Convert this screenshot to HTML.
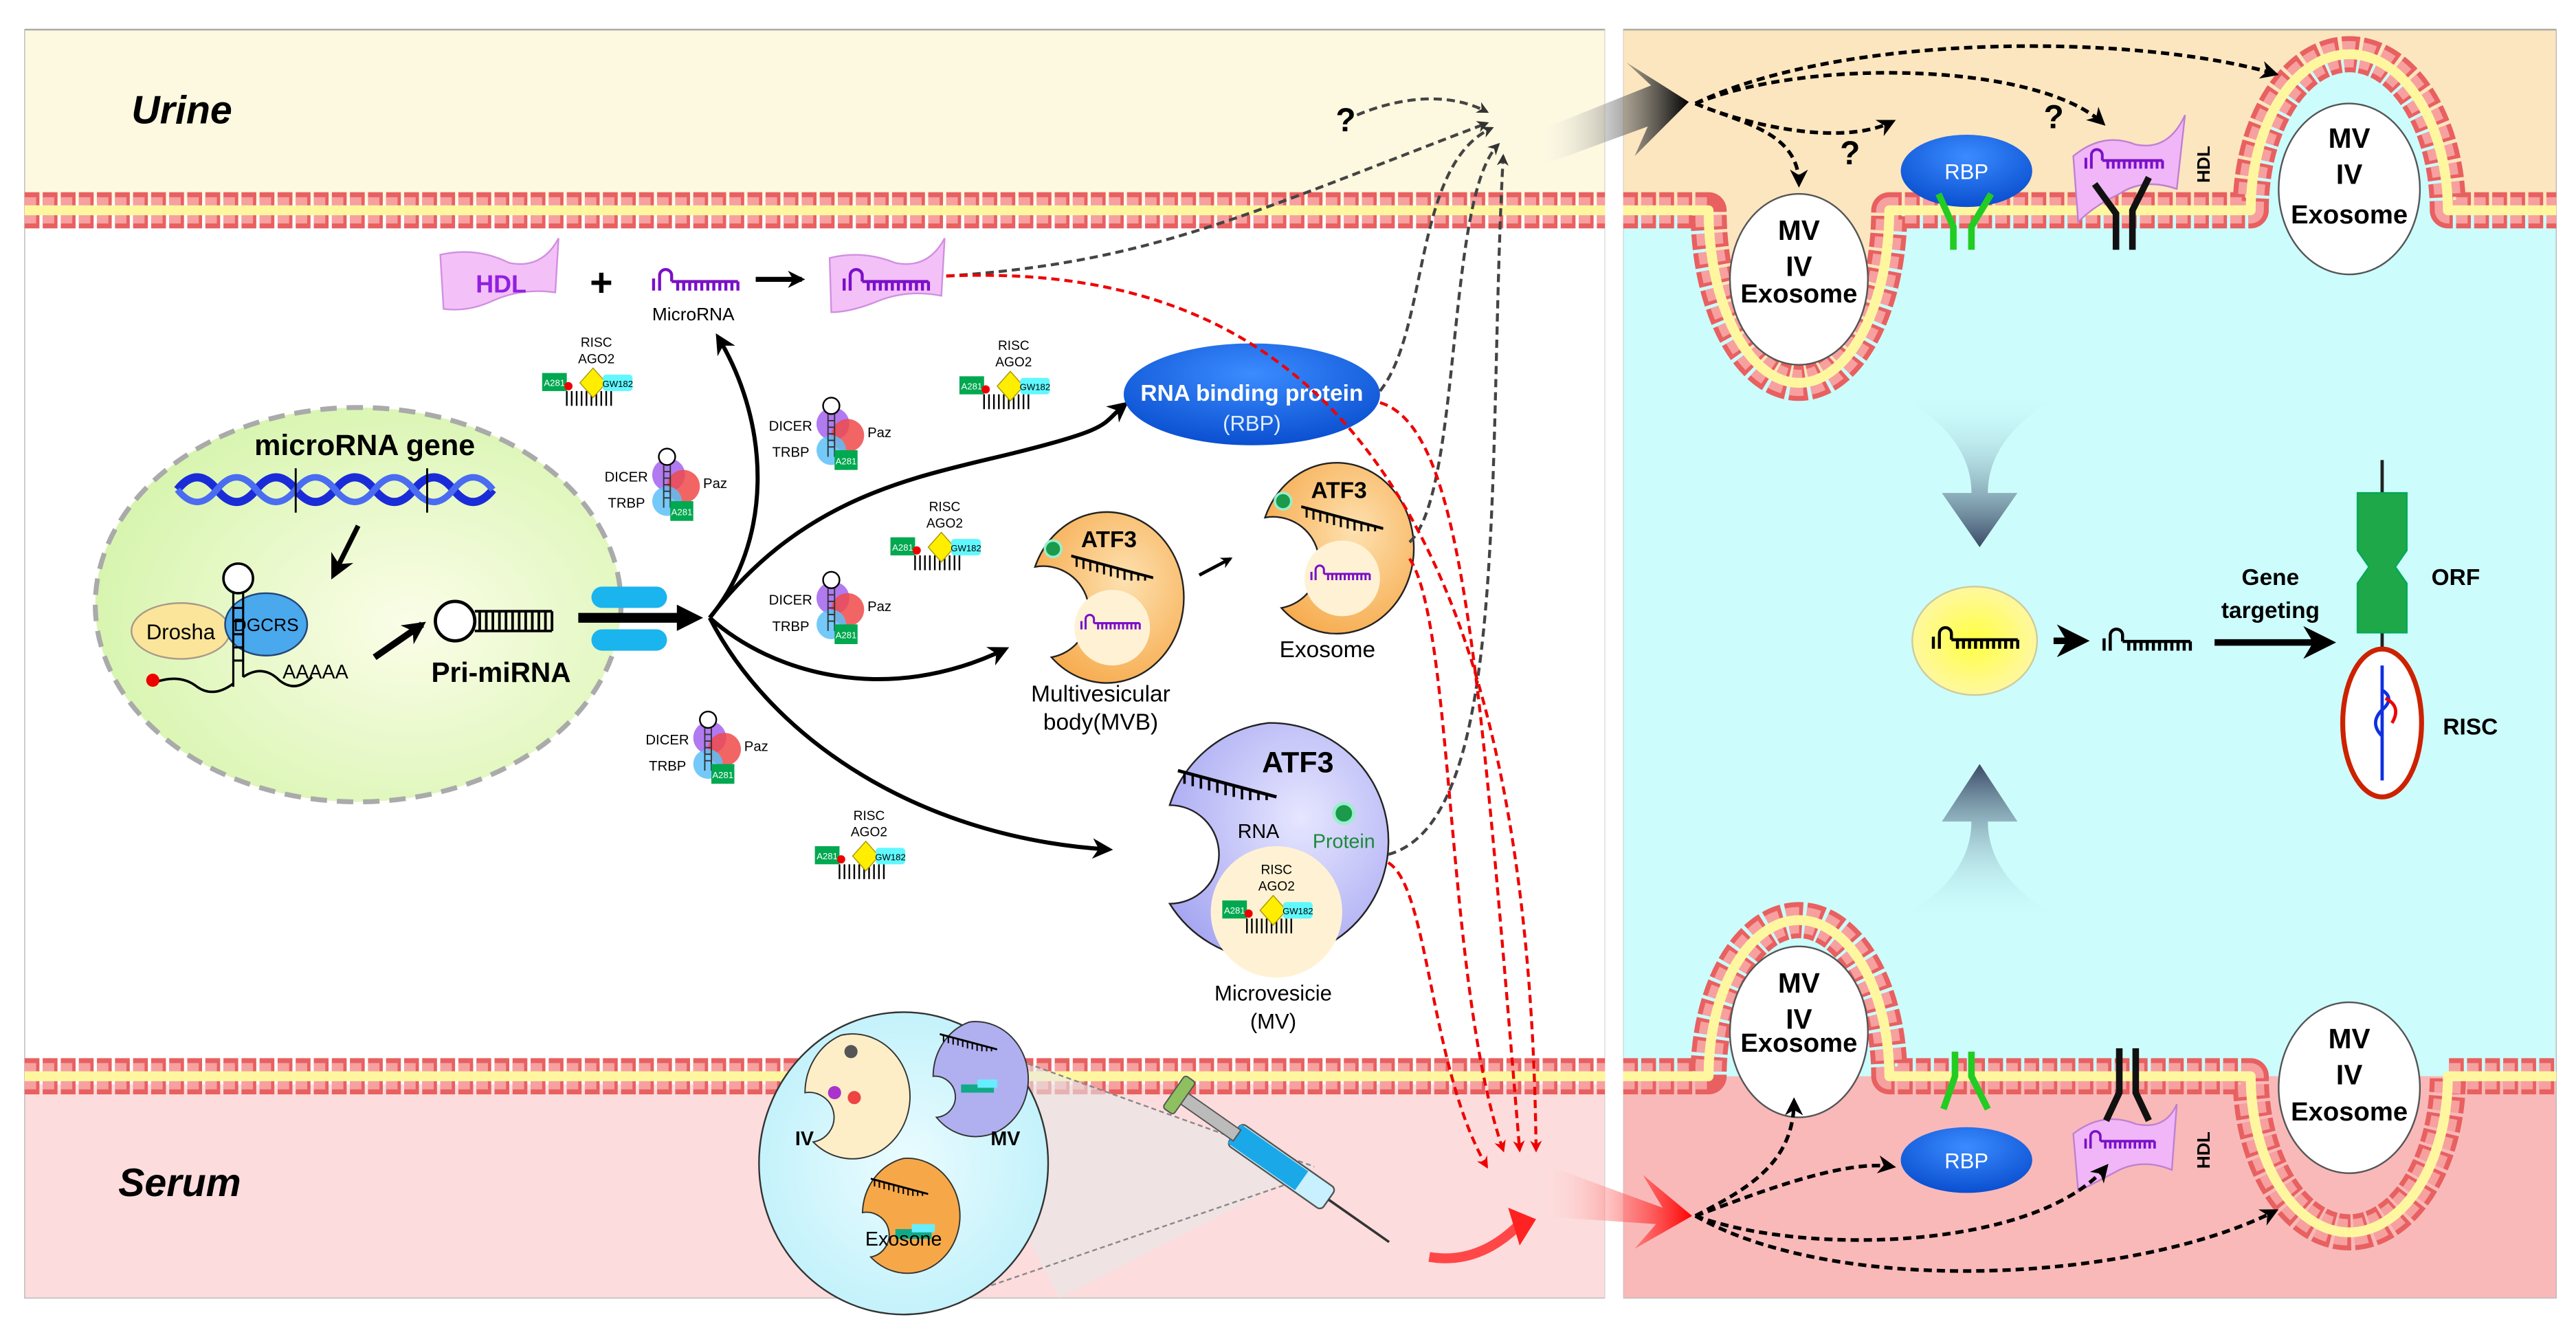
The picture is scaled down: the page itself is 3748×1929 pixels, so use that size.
<!DOCTYPE html>
<html><head><meta charset="utf-8"><style>
html,body{margin:0;padding:0;background:#fff}
svg{display:block}
text{font-family:"Liberation Sans",Arial,sans-serif}
</style></head><body>
<svg width="3748" height="1929" viewBox="0 0 1568 807" preserveAspectRatio="none" xmlns="http://www.w3.org/2000/svg">
<defs>
<radialGradient id="cellg" cx="0.6" cy="0.55" r="0.6"><stop offset="0" stop-color="#fbfde8"/><stop offset="1" stop-color="#d8f5b0"/></radialGradient>
<radialGradient id="rbpg" cx="0.5" cy="0.3" r="0.7"><stop offset="0" stop-color="#3b8cff"/><stop offset="1" stop-color="#0a4fd0"/></radialGradient>
<radialGradient id="orng" cx="0.6" cy="0.4" r="0.7"><stop offset="0" stop-color="#fde1b0"/><stop offset="1" stop-color="#f6a848"/></radialGradient>
<radialGradient id="lavg" cx="0.6" cy="0.4" r="0.7"><stop offset="0" stop-color="#e6e6ff"/><stop offset="1" stop-color="#a6a6f2"/></radialGradient>
<radialGradient id="yelg" cx="0.5" cy="0.5" r="0.5"><stop offset="0" stop-color="#ffff40"/><stop offset="1" stop-color="#fff8a0"/></radialGradient>
<radialGradient id="insetg" cx="0.5" cy="0.5" r="0.5"><stop offset="0" stop-color="#eafcff"/><stop offset="1" stop-color="#c4f2fb"/></radialGradient>
<linearGradient id="dn" x1="0" y1="0" x2="0" y2="1"><stop offset="0" stop-color="#c9f9fb" stop-opacity="0"/><stop offset="1" stop-color="#3a4a66"/></linearGradient>
<linearGradient id="up" x1="0" y1="1" x2="0" y2="0"><stop offset="0" stop-color="#c9f9fb" stop-opacity="0"/><stop offset="1" stop-color="#3a4a66"/></linearGradient>
<linearGradient id="blk" x1="0" y1="0" x2="1" y2="0"><stop offset="0" stop-color="#fff" stop-opacity="0"/><stop offset="1" stop-color="#000"/></linearGradient>
<linearGradient id="red" x1="0" y1="0" x2="1" y2="0"><stop offset="0" stop-color="#fff" stop-opacity="0"/><stop offset="1" stop-color="#f00"/></linearGradient>
<marker id="ah" viewBox="0 0 10 10" refX="8" refY="5" markerWidth="5" markerHeight="5" orient="auto"><path d="M0,0 L10,5 L0,10 L3,5z" fill="#000"/></marker>
<marker id="ahs" viewBox="0 0 10 10" refX="8" refY="5" markerWidth="3.5" markerHeight="3.5" orient="auto"><path d="M0,0 L10,5 L0,10 L3,5z" fill="#000"/></marker>
<marker id="ahg" viewBox="0 0 10 10" refX="8" refY="5" markerWidth="4" markerHeight="4" orient="auto"><path d="M0,0 L10,5 L0,10 L3,5z" fill="#333"/></marker>
<marker id="ahr" viewBox="0 0 10 10" refX="8" refY="5" markerWidth="4" markerHeight="4" orient="auto"><path d="M0,0 L10,5 L0,10 L3,5z" fill="#e00"/></marker>
<symbol id="mir" viewBox="0 0 60 16"><path d="M2,16 V8 M6,16 V6 A4,4 0 0 1 14,6 V10 M14,10 H58 M18,10 V16 M22,10 V16 M26,10 V16 M30,10 V16 M34,10 V16 M38,10 V16 M42,10 V16 M46,10 V16 M50,10 V16 M54,10 V16 M58,10 V16" stroke="#7a10c8" stroke-width="2" fill="none"/></symbol>
<symbol id="mirk" viewBox="0 0 60 16"><path d="M2,16 V8 M6,16 V6 A4,4 0 0 1 14,6 V10 M14,10 H58 M18,10 V16 M22,10 V16 M26,10 V16 M30,10 V16 M34,10 V16 M38,10 V16 M42,10 V16 M46,10 V16 M50,10 V16 M54,10 V16 M58,10 V16" stroke="#000" stroke-width="2" fill="none"/></symbol>
<symbol id="comb" viewBox="0 0 60 20"><path d="M0,2 L60,18" stroke="#000" stroke-width="2"/><path d="M4,3 V10 M9,4.5 V11.5 M14,6 V13 M19,7 V14 M24,8.5 V15.5 M29,10 V17 M34,11 V18 M39,12.5 V19.5 M44,14 V20 M49,15 V20 M54,16.5 V20" stroke="#000" stroke-width="1.5"/></symbol>
<g id="risc">
<text x="0" y="0" font-size="8" text-anchor="middle">RISC</text>
<text x="0" y="10" font-size="8" text-anchor="middle">AGO2</text>
<rect x="-33" y="16" width="15" height="11" fill="#00a850"/><text x="-25.5" y="24" font-size="5.5" fill="#fff" text-anchor="middle">A281</text>
<path d="M-18,27 V36 M-15,27 V36 M-12,27 V36 M-9,27 V36 M-6,27 V36 M-3,27 V36 M0,27 V36 M3,27 V36 M6,27 V36 M9,27 V36" stroke="#000" stroke-width="1"/>
<circle cx="-17" cy="24" r="2.5" fill="#e00"/>
<path d="M-10,22 L-2,13 L6,22 L-2,31z" fill="#ffee00" stroke="#aa9900" stroke-width="0.6"/>
<rect x="4" y="17" width="18" height="10" rx="2" fill="#60f8ff"/><text x="13" y="24.5" font-size="5.5" text-anchor="middle">GW182</text>
</g>
<g id="dicer">
<text x="-30" y="0" font-size="8.5">DICER</text>
<text x="-28" y="16" font-size="8.5">TRBP</text>
<circle cx="9" cy="-4" r="10" fill="#a86cf0" opacity="0.9"/>
<circle cx="18" cy="3" r="10" fill="#f04a4a" opacity="0.85"/>
<circle cx="8" cy="12" r="9" fill="#5cc0f8" opacity="0.85"/>
<circle cx="8" cy="-15" r="5" fill="#fff" stroke="#000" stroke-width="1"/>
<path d="M6,-10 V16 M10,-10 V16 M6,-6 H10 M6,-2 H10 M6,2 H10 M6,6 H10 M6,10 H10" stroke="#333" stroke-width="0.8"/>
<rect x="10" y="12" width="14" height="12" fill="#00a850"/><text x="17" y="20.5" font-size="5.5" fill="#fff" text-anchor="middle">A281</text>
<text x="30" y="4" font-size="8.5">Paz</text>
</g>
</defs>

<rect x="15" y="18" width="962" height="772" fill="#fff"/>
<rect x="15" y="18" width="962" height="105" fill="#fdf8e0"/>
<rect x="15" y="660" width="962" height="130" fill="#fcdcdc"/>
<line x1="15" y1="18" x2="977" y2="18" stroke="#888" stroke-width="1"/>
<rect x="15" y="18" width="962" height="772" fill="none" stroke="#bbb" stroke-width="0.6"/>
<rect x="988" y="18" width="568" height="772" fill="#ccfcfc"/>
<rect x="988" y="18" width="568" height="110" fill="#fce6bf"/>
<rect x="988" y="655" width="568" height="135" fill="#f9b9b9"/>
<line x1="988" y1="18" x2="1556" y2="18" stroke="#887" stroke-width="1"/>
<rect x="988" y="18" width="568" height="772" fill="none" stroke="#bbb" stroke-width="0.6"/>
<path d="M1370,128 A60,95 0 0 1 1490,128z" fill="#ccfcfc"/>
<path d="M1040,655 A55,95 0 0 1 1150,655z" fill="#ccfcfc"/>
<path d="M1040,128 A55,105 0 0 0 1150,128z" fill="#fce6bf"/>
<path d="M1370,655 A60,95 0 0 0 1490,655z" fill="#f9b9b9"/>

<g fill="none" stroke-linejoin="round">
<g stroke="#e86060" stroke-width="22" stroke-dasharray="9 2">
<path d="M15,128 H977"/><path d="M15,655 H977"/>
<path d="M988,128 H1040 A55,105 0 0 0 1150,128 H1370 A60,95 0 0 1 1490,128 H1556"/>
<path d="M988,655 H1040 A55,95 0 0 1 1150,655 H1370 A60,95 0 0 0 1490,655 H1556"/>
</g>
<g stroke="#f7a0a0" stroke-width="16" stroke-dasharray="7 4">
<path d="M15,128 H977"/><path d="M15,655 H977"/>
<path d="M988,128 H1040 A55,105 0 0 0 1150,128 H1370 A60,95 0 0 1 1490,128 H1556"/>
<path d="M988,655 H1040 A55,95 0 0 1 1150,655 H1370 A60,95 0 0 0 1490,655 H1556"/>
</g>
<g stroke="#fff7a0" stroke-width="6">
<path d="M15,128 H977"/><path d="M15,655 H977"/>
<path d="M988,128 H1040 A55,105 0 0 0 1150,128 H1370 A60,95 0 0 1 1490,128 H1556"/>
<path d="M988,655 H1040 A55,95 0 0 1 1150,655 H1370 A60,95 0 0 0 1490,655 H1556"/>
</g>
</g>
<rect x="977" y="10" width="11" height="790" fill="#fff"/>

<g stroke="#555" stroke-width="1" fill="#fff">
<ellipse cx="1095" cy="170" rx="42" ry="52"/>
<ellipse cx="1430" cy="115" rx="43" ry="52"/>
<ellipse cx="1095" cy="628" rx="42" ry="52"/>
<ellipse cx="1430" cy="662" rx="43" ry="52"/>
</g>
<g font-size="17" font-weight="bold" text-anchor="middle">
<text x="1095" y="146">MV</text><text x="1095" y="168">IV</text><text x="1095" y="184" font-size="16">Exosome</text>
<text x="1430" y="90">MV</text><text x="1430" y="112">IV</text><text x="1430" y="136" font-size="16">Exosome</text>
<text x="1095" y="604">MV</text><text x="1095" y="626">IV</text><text x="1095" y="640" font-size="16">Exosome</text>
<text x="1430" y="638">MV</text><text x="1430" y="660">IV</text><text x="1430" y="682" font-size="16">Exosome</text>
</g>

<ellipse cx="1197" cy="104" rx="40" ry="22" fill="url(#rbpg)"/>
<path d="M1180,118 L1189,138 V152 M1212,118 L1200,138 V152" stroke="#22cc22" stroke-width="4" fill="none"/>
<text x="1197" y="109" font-size="13" fill="#fff" text-anchor="middle">RBP</text>
<path d="M1262,95 Q1280,80 1300,88 Q1320,92 1330,70 L1325,115 Q1305,108 1290,118 Q1275,125 1265,135z" fill="#f0b6f8" stroke="#c080d0" stroke-width="1"/>
<use href="#mir" x="1268" y="88" width="50" height="16"/>
<path d="M1275,112 L1288,130 V152 M1308,108 L1298,128 V152" stroke="#111" stroke-width="4" fill="none"/>
<text x="1345" y="100" font-size="11" font-weight="bold" transform="rotate(-90 1345 100)" text-anchor="middle">HDL</text>
<path d="M1183,675 L1190,655 V640 M1210,675 L1200,655 V640" stroke="#22cc22" stroke-width="4" fill="none"/>
<ellipse cx="1197" cy="706" rx="40" ry="20" fill="url(#rbpg)"/>
<text x="1197" y="711" font-size="13" fill="#fff" text-anchor="middle">RBP</text>
<path d="M1262,690 Q1280,676 1300,684 Q1318,688 1325,672 L1322,712 Q1305,705 1290,712 Q1275,720 1265,725z" fill="#f0b6f8" stroke="#c080d0" stroke-width="1"/>
<use href="#mir" x="1268" y="686" width="45" height="14"/>
<path d="M1282,682 L1290,665 V638 M1308,682 L1300,665 V638" stroke="#111" stroke-width="4" fill="none"/>
<text x="1345" y="700" font-size="11" font-weight="bold" transform="rotate(-90 1345 700)" text-anchor="middle">HDL</text>

<path d="M935,80 L1005,52 L990,38 L1028,62 L995,95 L1003,77 L940,100z" fill="url(#blk)"/>
<path d="M930,705 L1012,735 L1000,715 L1030,740 L995,760 L1008,745 L935,740z" fill="url(#red)"/>
<g fill="none" stroke="#000" stroke-width="2.2" stroke-dasharray="5 3" marker-end="url(#ah)">
<path d="M1032,63 C1120,20 1300,20 1385,45"/>
<path d="M1032,63 C1100,35 1240,38 1280,75"/>
<path d="M1032,63 C1060,75 1120,90 1152,74"/>
<path d="M1032,63 C1060,75 1095,80 1095,112"/>
<path d="M1032,740 C1060,725 1092,710 1092,670"/>
<path d="M1032,740 C1060,730 1120,705 1152,710"/>
<path d="M1032,740 C1100,765 1240,760 1282,710"/>
<path d="M1032,740 C1120,790 1300,780 1385,737"/>
</g>
<g font-size="20" font-weight="bold"><text x="1120" y="100">?</text><text x="1244" y="78">?</text><text x="813" y="80">?</text></g>

<path d="M1155,240 Q1200,265 1200,300 L1182,300 L1205,333 L1228,300 L1210,300 Q1210,265 1255,240z" fill="url(#dn)"/>
<path d="M1155,560 Q1200,535 1200,500 L1182,500 L1205,465 L1228,500 L1210,500 Q1210,535 1255,560z" fill="url(#up)"/>
<ellipse cx="1202" cy="390" rx="38" ry="33" fill="url(#yelg)" stroke="#cc9" stroke-width="1"/>
<use href="#mirk" x="1175" y="380" width="55" height="15"/>
<path d="M1250,390 H1268" stroke="#000" stroke-width="4" marker-end="url(#ah)"/>
<use href="#mirk" x="1278" y="381" width="58" height="15"/>
<path d="M1348,391 H1418" stroke="#000" stroke-width="4" marker-end="url(#ah)"/>
<text x="1382" y="356" font-size="14" font-weight="bold" text-anchor="middle">Gene</text>
<text x="1382" y="376" font-size="14" font-weight="bold" text-anchor="middle">targeting</text>
<line x1="1450" y1="280" x2="1450" y2="475" stroke="#222" stroke-width="2"/>
<path d="M1435,300 H1465 V335 L1458,345 L1465,355 V385 H1435 V355 L1442,345 L1435,335z" fill="#1ea84a" stroke="#0a5" stroke-width="1"/>
<text x="1480" y="356" font-size="14" font-weight="bold">ORF</text>
<ellipse cx="1450" cy="440" rx="24" ry="45" fill="#fff" stroke="#cc2200" stroke-width="3"/>
<path d="M1450,405 V475 M1450,420 Q1458,425 1450,432 Q1442,440 1450,448" stroke="#1030e0" stroke-width="2" fill="none"/>
<path d="M1452,425 Q1462,430 1456,440" stroke="#e00" stroke-width="2" fill="none"/>
<text x="1487" y="447" font-size="14" font-weight="bold">RISC</text>

<text x="80" y="75" font-size="24" font-weight="bold" font-style="italic">Urine</text>
<text x="72" y="728" font-size="24" font-weight="bold" font-style="italic">Serum</text>

<ellipse cx="218" cy="368" rx="160" ry="120" fill="url(#cellg)" stroke="#aaa" stroke-width="3" stroke-dasharray="10 6"/>
<text x="222" y="277" font-size="18" font-weight="bold" text-anchor="middle">microRNA gene</text>
<path d="M108,298 Q120,283 132,298 T156,298 T180,298 T204,298 T228,298 T252,298 T276,298 T300,298" stroke="#1a2cd8" stroke-width="5" fill="none"/>
<path d="M108,298 Q120,313 132,298 T156,298 T180,298 T204,298 T228,298 T252,298 T276,298 T300,298" stroke="#4a6cf0" stroke-width="4" fill="none"/>
<path d="M180,285 V312 M260,285 V312" stroke="#000" stroke-width="1.2"/>
<path d="M218,320 L203,350" stroke="#000" stroke-width="3" marker-end="url(#ah)"/>
<ellipse cx="110" cy="384" rx="30" ry="17" fill="#fbe59a" stroke="#a98" stroke-width="1"/>
<text x="110" y="389" font-size="13" text-anchor="middle">Drosha</text>
<ellipse cx="162" cy="380" rx="25" ry="19" fill="#4aa8ec" stroke="#247" stroke-width="1"/>
<text x="162" y="384" font-size="11" text-anchor="middle">DGCRS</text>
<circle cx="145" cy="352" r="9" fill="#fff" stroke="#000" stroke-width="1.5"/>
<path d="M142,360 V418 M148,360 V412 M142,370 H148 M142,378 H148 M142,386 H148 M142,394 H148 M142,402 H148" stroke="#000" stroke-width="1.3"/>
<path d="M95,415 Q110,410 120,418 Q130,425 142,416 M148,412 Q160,404 170,414 Q180,422 190,412" stroke="#000" stroke-width="1.5" fill="none"/>
<circle cx="93" cy="414" r="4" fill="#e00"/>
<text x="172" y="413" font-size="12">AAAAA</text>
<path d="M228,400 L257,380" stroke="#000" stroke-width="4" marker-end="url(#ahs)"/>
<circle cx="277" cy="378" r="12" fill="#fff" stroke="#000" stroke-width="2"/>
<path d="M289,372 H336 M289,384 H336 M292,372 V384 M296,372 V384 M300,372 V384 M304,372 V384 M308,372 V384 M312,372 V384 M316,372 V384 M320,372 V384 M324,372 V384 M328,372 V384 M332,372 V384 M336,372 V384" stroke="#000" stroke-width="1.6"/>
<text x="305" y="415" font-size="17" font-weight="bold" text-anchor="middle">Pri-miRNA</text>
<rect x="360" y="357" width="46" height="13" rx="6.5" fill="#1ab4ef"/>
<rect x="360" y="383" width="46" height="13" rx="6.5" fill="#1ab4ef"/>
<path d="M352,376 H415" stroke="#000" stroke-width="6"/>
<path d="M412,368 L428,376 L412,384z" fill="#000"/>

<g fill="none" stroke="#000" stroke-width="2.5" marker-end="url(#ah)">
<path d="M432,376 C470,330 470,260 437,205"/>
<path d="M432,376 C490,300 560,290 620,275 S670,258 685,246"/>
<path d="M432,376 C470,410 540,430 612,395"/>
<path d="M432,376 C470,450 560,510 675,517"/>
</g>

<path d="M268,155 Q290,150 310,160 Q330,164 340,145 L338,178 Q318,175 300,183 Q285,190 270,188z" fill="#f4c0f8" stroke="#d090e0" stroke-width="1"/>
<text x="305" y="178" font-size="15" font-weight="bold" fill="#9020e0" text-anchor="middle">HDL</text>
<text x="366" y="180" font-size="24" font-weight="bold" text-anchor="middle">+</text>
<use href="#mir" x="396" y="162" width="55" height="15"/>
<text x="422" y="195" font-size="11" text-anchor="middle">MicroRNA</text>
<path d="M460,170 H488" stroke="#000" stroke-width="3" marker-end="url(#ahs)"/>
<path d="M505,157 Q525,152 545,160 Q565,164 575,145 L573,180 Q553,176 535,183 Q518,190 506,190z" fill="#f4c0f8" stroke="#d090e0" stroke-width="1"/>
<use href="#mir" x="512" y="162" width="55" height="15"/>

<use href="#risc" x="363" y="211"/>
<use href="#risc" x="617" y="213"/>
<use href="#risc" x="575" y="311"/>
<use href="#risc" x="529" y="499"/>
<use href="#dicer" x="498" y="262"/>
<use href="#dicer" x="398" y="293"/>
<use href="#dicer" x="498" y="368"/>
<use href="#dicer" x="423" y="453"/>

<ellipse cx="762" cy="240" rx="78" ry="31" fill="url(#rbpg)"/>
<text x="762" y="244" font-size="14" font-weight="bold" fill="#fff" text-anchor="middle">RNA  binding protein</text>
<text x="762" y="262" font-size="13" fill="#ddeeff" text-anchor="middle">(RBP)</text>

<path d="M668,312 A47,52 0 1 1 640,400 A20,20 0 0 0 630,345 A47,52 0 0 1 668,312z" fill="url(#orng)" stroke="#222" stroke-width="1"/>
<circle cx="641" cy="334" r="5" fill="#1a9a4a" stroke="#9ec" stroke-width="1.5"/>
<text x="675" y="333" font-size="14" font-weight="bold" text-anchor="middle">ATF3</text>
<use href="#comb" x="652" y="335" width="50" height="20"/>
<circle cx="677" cy="382" r="23" fill="#fff2d4"/>
<use href="#mir" x="657" y="372" width="38" height="12"/>
<text x="670" y="427" font-size="14" text-anchor="middle">Multivesicular</text>
<text x="670" y="444" font-size="14" text-anchor="middle">body(MVB)</text>
<path d="M730,350 L749,340" stroke="#000" stroke-width="2" marker-end="url(#ahs)"/>
<path d="M808,282 A47,52 0 1 1 780,370 A20,20 0 0 0 770,315 A47,52 0 0 1 808,282z" fill="url(#orng)" stroke="#222" stroke-width="1"/>
<circle cx="781" cy="305" r="5" fill="#1a9a4a" stroke="#9ec" stroke-width="1.5"/>
<text x="815" y="303" font-size="14" font-weight="bold" text-anchor="middle">ATF3</text>
<use href="#comb" x="792" y="305" width="50" height="20"/>
<circle cx="817" cy="352" r="23" fill="#fff2d4"/>
<use href="#mir" x="797" y="342" width="38" height="12"/>
<text x="808" y="400" font-size="14" text-anchor="middle">Exosome</text>

<path d="M772,440 A72,72 0 1 1 712,550 A28,28 0 0 0 712,490 A72,72 0 0 1 772,440z" fill="url(#lavg)" stroke="#222" stroke-width="1"/>
<text x="790" y="470" font-size="18" font-weight="bold" text-anchor="middle">ATF3</text>
<use href="#comb" x="712" y="467" width="70" height="20"/>
<circle cx="818" cy="495" r="6" fill="#1a9a4a" stroke="#9ec" stroke-width="2"/>
<text x="766" y="510" font-size="12" text-anchor="middle">RNA</text>
<text x="818" y="516" font-size="12" fill="#1a8a3a" text-anchor="middle">Protein</text>
<circle cx="777" cy="555" r="40" fill="#fff2d4"/>
<use href="#risc" x="777" y="532"/>
<text x="775" y="609" font-size="13" text-anchor="middle">Microvesicie</text>
<text x="775" y="626" font-size="13" text-anchor="middle">(MV)</text>

<g fill="none" stroke="#444" stroke-width="1.8" stroke-dasharray="5 3" marker-end="url(#ahg)">
<path d="M576,168 C700,160 760,130 905,75"/>
<path d="M840,238 C870,200 860,100 908,78"/>
<path d="M858,330 C890,300 880,120 912,88"/>
<path d="M845,520 C920,500 905,280 915,95"/>
<path d="M826,70 C850,60 880,55 905,68"/>
</g>
<g fill="none" stroke="#e00" stroke-width="1.8" stroke-dasharray="5 3" marker-end="url(#ahr)">
<path d="M576,168 C760,160 930,250 935,700"/>
<path d="M840,245 C890,260 900,400 925,700"/>
<path d="M858,340 C885,380 880,600 915,700"/>
<path d="M845,525 C870,540 870,650 905,710"/>
</g>

<path d="M555,622 L800,710 L645,790z" fill="#e8e8e8" opacity="0.6"/>
<path d="M555,622 L800,710 M575,792 L800,715" stroke="#888" stroke-width="1" stroke-dasharray="3 2"/>
<ellipse cx="550" cy="708" rx="88" ry="92" fill="url(#insetg)" stroke="#333" stroke-width="1"/>
<path d="M512,630 A35,38 0 1 1 495,695 A12,12 0 0 0 490,665 A35,38 0 0 1 512,630z" fill="#fdeec8" stroke="#333" stroke-width="0.8"/>
<path d="M590,622 A32,35 0 1 1 570,680 A12,12 0 0 0 568,655 A32,35 0 0 1 590,622z" fill="#b0b0f0" stroke="#333" stroke-width="0.8"/>
<path d="M550,705 A32,35 0 1 1 530,765 A12,12 0 0 0 525,738 A32,35 0 0 1 550,705z" fill="#f6a848" stroke="#333" stroke-width="0.8"/>
<use href="#comb" x="530" y="715" width="35" height="14"/>
<use href="#comb" x="572" y="628" width="35" height="12"/>
<rect x="545" y="748" width="22" height="6" fill="#1a8"/><rect x="555" y="745" width="14" height="5" fill="#6ef"/>
<rect x="585" y="660" width="20" height="5" fill="#1a8"/><rect x="595" y="657" width="12" height="5" fill="#6ef"/>
<circle cx="518" cy="640" r="4" fill="#555"/><circle cx="508" cy="665" r="4" fill="#a3c"/><circle cx="520" cy="668" r="4" fill="#e44"/>
<text x="484" y="697" font-size="12" font-weight="bold">IV</text>
<text x="603" y="697" font-size="12" font-weight="bold">MV</text>
<text x="550" y="758" font-size="12" text-anchor="middle">Exosone</text>
<g transform="rotate(35 780 710)">
<rect x="745" y="702" width="70" height="16" rx="3" fill="#c8f0ff" stroke="#555" stroke-width="1"/>
<rect x="745" y="703" width="50" height="14" fill="#1aa8e8"/>
<rect x="705" y="706" width="42" height="8" fill="#bbb" stroke="#555" stroke-width="0.8"/>
<rect x="700" y="698" width="8" height="24" rx="2" fill="#8ec060" stroke="#555" stroke-width="0.8"/>
<line x1="815" y1="710" x2="860" y2="710" stroke="#333" stroke-width="1.5"/>
</g>
<path d="M870,765 Q900,770 925,745" stroke="#f22" stroke-width="6" fill="none" opacity="0.8"/>
<path d="M918,735 L935,742 L925,758z" fill="#f22"/>
</svg>
</body></html>
